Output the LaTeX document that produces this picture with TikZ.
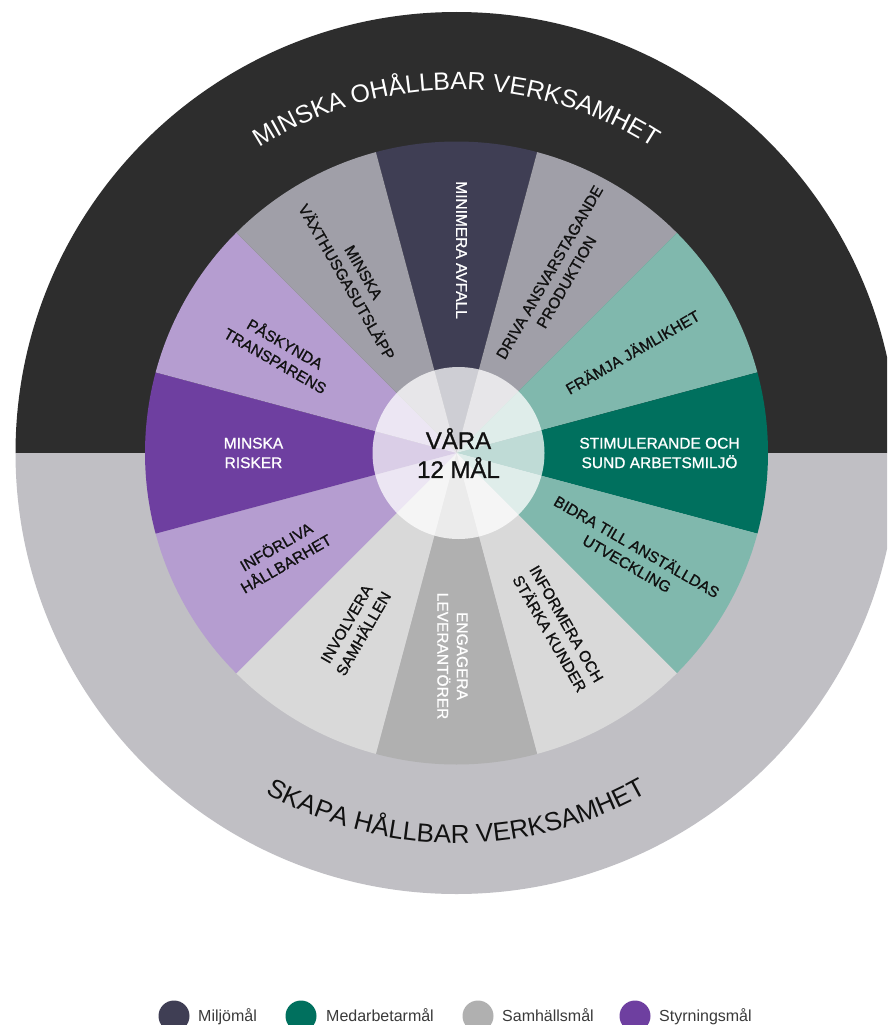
\documentclass[tikz,border=0pt]{standalone}
\usepackage{fontspec}
\setmainfont{Liberation Sans}
\newfontfamily\medfam[FakeBold=1]{Liberation Sans}
\usetikzlibrary{decorations.text}
\definecolor{bgdark}{HTML}{2D2D2D}
\definecolor{bglight}{HTML}{C0BFC4}
\definecolor{navy}{HTML}{3F3E54}
\definecolor{gmid}{HTML}{A09FA8}
\definecolor{tealL}{HTML}{80B8AD}
\definecolor{tealD}{HTML}{00705E}
\definecolor{glight}{HTML}{D9D9D9}
\definecolor{ggray}{HTML}{B0B0B0}
\definecolor{purL}{HTML}{B59DD0}
\definecolor{purD}{HTML}{6E3FA0}
\definecolor{ink}{HTML}{111111}
\definecolor{legtext}{HTML}{3A3A3A}
\newcommand\lblfont{\medfam\fontsize{15.5}{19.5}\selectfont}
\newcommand\midfont{\medfam\fontsize{24}{29}\selectfont}
\newcommand\arcfontA{\fontsize{25}{25}\selectfont}
\newcommand\arcfontB{\fontsize{26}{26}\selectfont}
\newcommand\legfont{\fontsize{16}{19}\selectfont}
\begin{document}
\begin{tikzpicture}[x=1pt,y=1pt,
  lbl/.style={font=\lblfont, align=center, inner sep=0pt},
  legdot/.style={circle, minimum size=31pt, inner sep=0pt},
  legtxt/.style={font=\legfont, text=legtext, inner sep=0pt, anchor=base west},
  midcircle/.style={circle, fill=white, fill opacity=0.75, text opacity=1,
    minimum size=172pt, inner sep=0pt, font=\midfont, align=center, text=ink}]
\useasboundingbox (0,0) rectangle (887,-1025);
\fill[white] (0,0) rectangle (887,-1025);
\clip (0,0) rectangle (887,-1025);
\coordinate (C) at (456.5,-453);
% background halves
\fill[bgdark] ([shift={(180:441)}]C) arc[start angle=180, end angle=0, radius=441] -- cycle;
\fill[bglight] ([shift={(180:441)}]C) arc[start angle=180, end angle=360, radius=441] -- cycle;
% sectors and labels
\foreach \ang/\col/\tc/\rot/\dx/\txt [count=\i] in {
  90/navy/white/-90/5/{MINIMERA AVFALL},
  60/gmid/ink/60/0/{DRIVA ANSVARSTAGANDE\\PRODUKTION},
  30/tealL/ink/30/0/{FRÄMJA JÄMLIKHET},
  0/tealD/white/0/0/{STIMULERANDE OCH\\SUND ARBETSMILJÖ},
  -30/tealL/ink/-30/0/{BIDRA TILL ANSTÄLLDAS\\UTVECKLING},
  -60/glight/ink/-60/0/{INFORMERA OCH\\STÄRKA KUNDER},
  -90/ggray/white/-90/-4/{ENGAGERA\\LEVERANTÖRER},
  -120/glight/ink/60/0/{INVOLVERA\\SAMHÄLLEN},
  -150/purL/ink/30/0/{INFÖRLIVA\\HÅLLBARHET},
  180/purD/white/0/0/{MINSKA\\RISKER},
  150/purL/ink/-30/0/{PÅSKYNDA\\TRANSPARENS},
  120/gmid/ink/-60/0/{MINSKA\\VÄXTHUSGASUTSLÄPP}} {
  \fill[\col] (C) -- ([shift={(\ang-15:311.5)}]C)
     arc[start angle=\ang-15, end angle=\ang+15, radius=311.5] -- cycle;
  \node[lbl, text=\tc, rotate=\rot] (goal\i) at ([shift={(\ang:203)},xshift=\dx]C) {\txt};
}
% centre
\node[midcircle] (centre) at (458.5,-453) {VÅRA\\12 MÅL};
% arc texts
\begin{scope}
\path[decorate, decoration={text along path, text align=center, text color=white,
   text={|\arcfontA|MINSKA OHÅLLBAR VERKSAMHET}}]
   ([shift={(160:363)}]C) arc[start angle=160, end angle=20, radius=363];
\path[decorate, decoration={text along path, text align=center, text color=ink,
   text={|\arcfontB|SKAPA HÅLLBAR VERKSAMHET}}]
   ([shift={(200:390)}]C) arc[start angle=200, end angle=340, radius=390];
\end{scope}
% legend
\node[legdot, fill=navy] (dot1) at (174,-1016) {};
\node[legtxt] (leg1) at (198,-1021) {Miljömål};
\node[legdot, fill=tealD] (dot2) at (301,-1016) {};
\node[legtxt] (leg2) at (326,-1021) {Medarbetarmål};
\node[legdot, fill=ggray] (dot3) at (478,-1016) {};
\node[legtxt] (leg3) at (502,-1021) {Samhällsmål};
\node[legdot, fill=purD] (dot4) at (635,-1016) {};
\node[legtxt] (leg4) at (659,-1021) {Styrningsmål};
\end{tikzpicture}
\end{document}
